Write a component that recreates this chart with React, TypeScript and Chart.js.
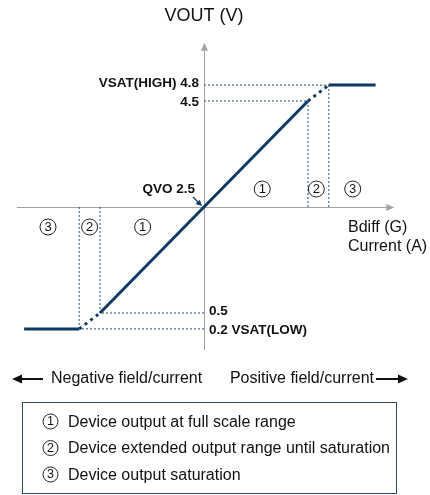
import React, { useEffect, useRef } from "react";
import { Chart, registerables } from "chart.js";

Chart.register(...registerables);

// ---- data ----
const transferField = [-173, -120, -100, 100, 120, 165];
const transferVout = [0.2, 0.2, 0.5, 4.5, 4.8, 4.8];
const dottedSegments = [1, 3]; // segments starting at these indices are dotted (extended range)
const guideIndices = [1, 2, 3, 4];
const qvo = 2.5;
const levelLabels = ["VSAT(HIGH) 4.8", "4.5", "0.5", "0.2 VSAT(LOW)"];
const qvoLabel = "QVO 2.5";
const regionNumbers = ["3", "2", "1", "1", "2", "3"];
const regionField = [-150, -110, -59, 56, 108, 143];
const axisTitles = ["VOUT (V)", "Bdiff (G)", "Current (A)"];
const directionLabels = ["Negative field/current", "Positive field/current"];
const legendItems = [
  "Device output at full scale range",
  "Device extended output range until saturation",
  "Device output saturation",
];

const FONT = "'Liberation Sans', Arial, sans-serif";
const NAVY = "#0d3a63";
const GUIDE = "#1f4a7a";
const AXIS = "#a3a3a3";

function circled(ctx: CanvasRenderingContext2D, cx: number, cy: number, n: string, r: number, fs: number) {
  ctx.save();
  ctx.beginPath();
  ctx.arc(cx, cy, r, 0, Math.PI * 2);
  ctx.lineWidth = 1;
  ctx.strokeStyle = "#222";
  ctx.stroke();
  ctx.fillStyle = "#111";
  ctx.font = `${fs}px ${FONT}`;
  ctx.textAlign = "center";
  ctx.textBaseline = "middle";
  ctx.fillText(n, cx, cy + 0.5);
  ctx.restore();
}

function arrowHead(ctx: CanvasRenderingContext2D, tx: number, ty: number, angle: number, len: number, half: number) {
  ctx.beginPath();
  ctx.moveTo(tx, ty);
  ctx.lineTo(tx - len * Math.cos(angle) + half * Math.sin(angle), ty - len * Math.sin(angle) - half * Math.cos(angle));
  ctx.lineTo(tx - len * Math.cos(angle) - half * Math.sin(angle), ty - len * Math.sin(angle) + half * Math.cos(angle));
  ctx.closePath();
  ctx.fill();
}

const annotations = {
  id: "annotations",
  beforeDatasetsDraw(chart: any) {
    const { ctx, scales } = chart;
    const xs = scales.x;
    const ys = scales.y;
    ctx.save();
    ctx.strokeStyle = AXIS;
    ctx.fillStyle = AXIS;
    ctx.lineWidth = 1;
    const y0 = Math.round(ys.getPixelForValue(qvo)) + 0.5;
    const x0 = Math.round(xs.getPixelForValue(0)) + 0.5;
    const xl = xs.getPixelForValue(-180);
    const xr = xs.getPixelForValue(183);
    ctx.beginPath();
    ctx.moveTo(xl, y0);
    ctx.lineTo(xr - 6, y0);
    ctx.stroke();
    arrowHead(ctx, xr, y0, 0, 8, 3.5);
    const yb = ys.getPixelForValue(-0.2);
    const yt = ys.getPixelForValue(5.6);
    ctx.beginPath();
    ctx.moveTo(x0, yb);
    ctx.lineTo(x0, yt + 6);
    ctx.stroke();
    arrowHead(ctx, x0, yt, -Math.PI / 2, 8, 3.5);
    ctx.restore();
  },
  afterDraw(chart: any) {
    const { ctx, scales } = chart;
    const xs = scales.x;
    const ys = scales.y;
    const px = (v: number) => xs.getPixelForValue(v);
    const py = (v: number) => ys.getPixelForValue(v);
    const x0 = px(0);
    const y0 = py(qvo);
    ctx.save();
    ctx.fillStyle = "#111";
    ctx.textBaseline = "middle";

    // axis titles
    ctx.font = `18px ${FONT}`;
    ctx.textAlign = "center";
    ctx.fillText(axisTitles[0], x0, 16);
    ctx.font = `16px ${FONT}`;
    ctx.textAlign = "left";
    ctx.fillText(axisTitles[1], 348, y0 + 21);
    ctx.fillText(axisTitles[2], 348, y0 + 40);

    // level labels
    ctx.font = `bold 13.5px ${FONT}`;
    ctx.textAlign = "right";
    ctx.fillText(levelLabels[0], x0 - 5, py(transferVout[4]) - 2);
    ctx.fillText(levelLabels[1], x0 - 5, py(transferVout[3]) + 1);
    ctx.textAlign = "left";
    ctx.fillText(levelLabels[2], x0 + 5, py(transferVout[2]) - 2);
    ctx.fillText(levelLabels[3], x0 + 5, py(transferVout[1]) + 1);
    ctx.textAlign = "right";
    ctx.fillText(qvoLabel, x0 - 9, y0 - 18);

    // QVO pointer
    ctx.strokeStyle = NAVY;
    ctx.fillStyle = NAVY;
    ctx.lineWidth = 1.2;
    ctx.beginPath();
    ctx.moveTo(x0 - 11, y0 - 10);
    ctx.lineTo(x0 - 5, y0 - 4);
    ctx.stroke();
    arrowHead(ctx, x0 - 2, y0 - 1, Math.PI / 4, 6, 3);

    // region numbers
    regionNumbers.forEach((n, i) => {
      const f = regionField[i];
      circled(ctx, px(f), f > 0 ? y0 - 18 : y0 + 20, n, 8, 13);
    });

    // direction labels
    ctx.fillStyle = "#111";
    ctx.strokeStyle = "#111";
    ctx.font = `16px ${FONT}`;
    ctx.textAlign = "left";
    const dy = 379;
    ctx.fillText(directionLabels[0], 51, dy);
    ctx.textAlign = "right";
    ctx.fillText(directionLabels[1], 374, dy);
    ctx.lineWidth = 2.2;
    ctx.beginPath();
    ctx.moveTo(20, dy);
    ctx.lineTo(43, dy);
    ctx.moveTo(376, dy);
    ctx.lineTo(400, dy);
    ctx.stroke();
    arrowHead(ctx, 12, dy, Math.PI, 10, 4.5);
    arrowHead(ctx, 408, dy, 0, 10, 4.5);

    // legend box
    ctx.lineWidth = 1;
    ctx.strokeStyle = "#2f4a6e";
    ctx.strokeRect(22.5, 402.5, 374, 91);
    legendItems.forEach((t, i) => {
      const cy = 421.5 + i * 26.5;
      circled(ctx, 50.5, cy, String(i + 1), 7.5, 12.5);
      ctx.font = `16px ${FONT}`;
      ctx.textAlign = "left";
      ctx.textBaseline = "middle";
      ctx.fillStyle = "#111";
      ctx.fillText(t, 68, cy + 1);
    });
    ctx.restore();
  },
};

function guideDatasets() {
  const sets: any[] = [];
  guideIndices.forEach((i) => {
    const fx = transferField[i];
    const vy = transferVout[i];
    sets.push({
      data: [{ x: 0, y: vy }, { x: fx, y: vy }],
    });
    sets.push({
      data: [{ x: fx, y: vy }, { x: fx, y: qvo }],
    });
  });
  return sets.map((s) => ({
    ...s,
    showLine: true,
    borderColor: GUIDE,
    borderWidth: 1,
    borderDash: [2, 2],
    pointRadius: 0,
    fill: false,
  }));
}

export default function App() {
  const ref = useRef<HTMLCanvasElement | null>(null);
  useEffect(() => {
    if (!ref.current) return;
    const transfer = transferField.map((x, i) => ({ x, y: transferVout[i] }));
    const chart = new Chart(ref.current, {
      type: "scatter",
      data: {
        datasets: [
          ...guideDatasets(),
          {
            data: transfer,
            showLine: true,
            borderColor: NAVY,
            borderWidth: 3,
            borderCapStyle: "butt",
            pointRadius: 0,
            segment: {
              borderDash: (c: any) => (dottedSegments.includes(c.p0DataIndex) ? [3, 4] : undefined),
            },
          } as any,
        ],
      },
      options: {
        animation: false,
        responsive: false,
        devicePixelRatio: 1,
        layout: { padding: { left: 16.8, right: 38.8, top: 48, bottom: 129 } },
        plugins: { legend: { display: false }, tooltip: { enabled: false } },
        scales: {
          x: { type: "linear", min: -180, max: 180, display: false },
          y: { type: "linear", min: -0.5, max: 5.5, display: false },
        },
      },
      plugins: [annotations],
    });
    return () => chart.destroy();
  }, []);
  return (
    <div style={{ position: "absolute", left: 0, top: 0, width: 430, height: 495, background: "#fff" }}>
      <canvas ref={ref} width={430} height={495} style={{ display: "block" }} />
    </div>
  );
}
